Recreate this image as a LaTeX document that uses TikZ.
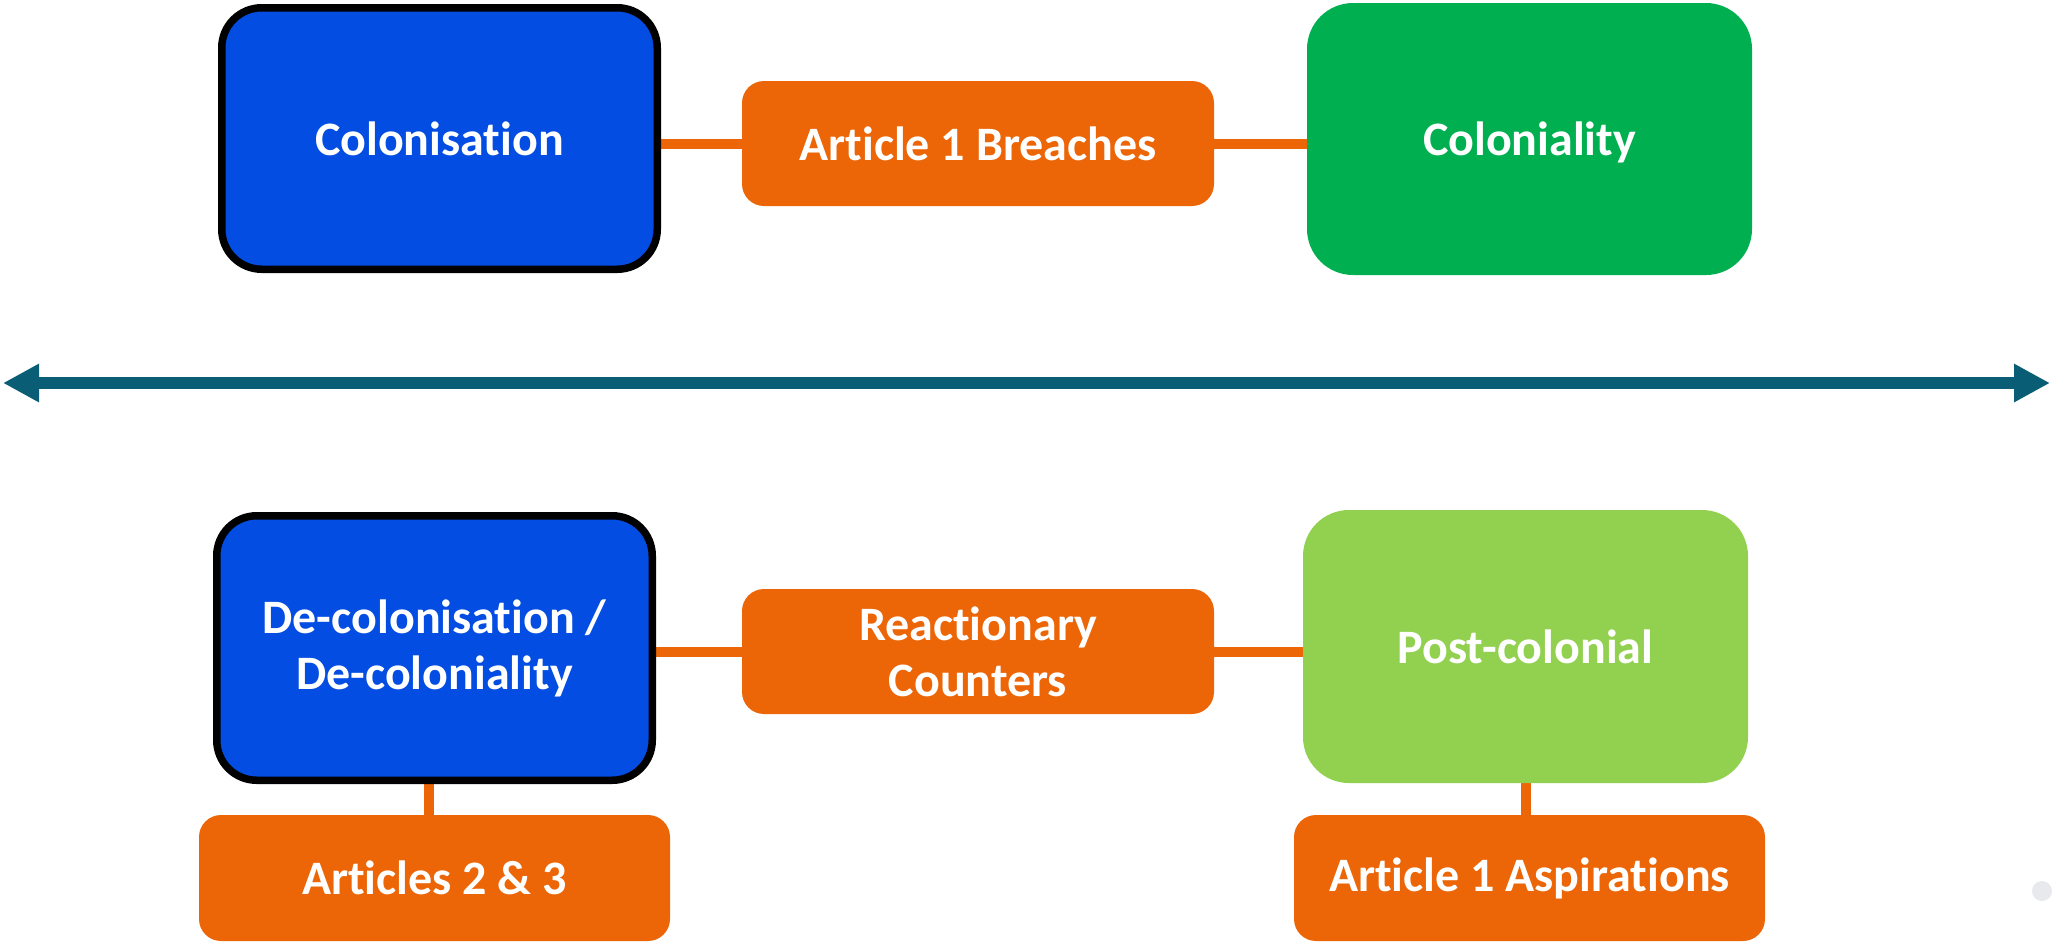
\documentclass[tikz,border=0pt]{standalone}
\usepackage{fontspec}
\setmainfont[Ligatures=NoCommon]{Carlito}
\usetikzlibrary{arrows.meta,backgrounds}
\definecolor{cblue}{RGB}{3,77,226}
\definecolor{cgreen}{RGB}{0,176,80}
\definecolor{clgreen}{RGB}{146,208,80}
\definecolor{corange}{RGB}{236,102,8}
\definecolor{cteal}{RGB}{9,94,118}
\definecolor{cgrey}{RGB}{232,233,236}
\tikzset{
  x=0.5pt, y=-0.5pt,
  box/.style={rounded corners=#1, text=white, font=\fontsize{24}{28}\selectfont\bfseries, align=center, inner sep=0pt},
  bigbox/.style={box=20pt, minimum width=217.75pt, draw=black, line width=3.75pt, fill=cblue},
  greenbox/.style={box=23pt, minimum width=222.5pt, fill=#1},
  orbox/.style={box=11pt, minimum width=236pt, minimum height=62.5pt, fill=corange},
  conn/.style={draw=corange, line width=5pt},
  timeline/.style={draw=cteal, line width=6pt, {Triangle[length=18pt,width=18pt]}-{Triangle[length=18pt,width=18pt]}}
}
\begin{document}
\begin{tikzpicture}
\useasboundingbox (0,0) rectangle (2052,944);
% top row
\node[bigbox, minimum height=130.75pt] (colon) at (439.5,138.5) {Colonisation};
\node[orbox] (art1b) at (978,143.5) {Article 1 Breaches};
\node[greenbox=cgreen, minimum height=136pt, text depth=0pt] (colty) at (1529.5,139) {Coloniality};
% timeline
\coordinate (tl) at (3,383);
\coordinate (tr) at (2050,383);
\draw[timeline] (tl) -- (tr);
% bottom row
\node[bigbox, minimum height=132.25pt] (decol) at (434.5,648) {De-colonisation /\\De-coloniality};
\node[orbox] (react) at (978,651.5) {Reactionary\\Counters};
\node[greenbox=clgreen, minimum height=136.5pt] (post) at (1525.5,646.5) {Post-colonial};
\node[orbox, minimum width=235.5pt, minimum height=63pt] (art23) at (434.5,878) {Articles 2 \& 3};
\node[orbox, minimum width=235.5pt, minimum height=63pt] (art1a) at (1529.5,878) {Article 1 Aspirations};
% grey dot
\fill[cgrey] (2042,891) circle (5pt);
% connectors
\begin{scope}[on background layer]
\draw[conn] (art1b.center) -- (art1b.center -| colon.center);
\draw[conn] (art1b.center) -- (art1b.center -| colty.center);
\draw[conn] (react.center) -- (react.center -| decol.center);
\draw[conn] (react.center) -- (react.center -| post.center);
\draw[conn] ([xshift=-2.75pt]decol.center) -- ([xshift=-2.75pt]decol.center |- art23.center);
\draw[conn] (post.center) -- (post.center |- art1a.center);
\end{scope}
\end{tikzpicture}
\end{document}
